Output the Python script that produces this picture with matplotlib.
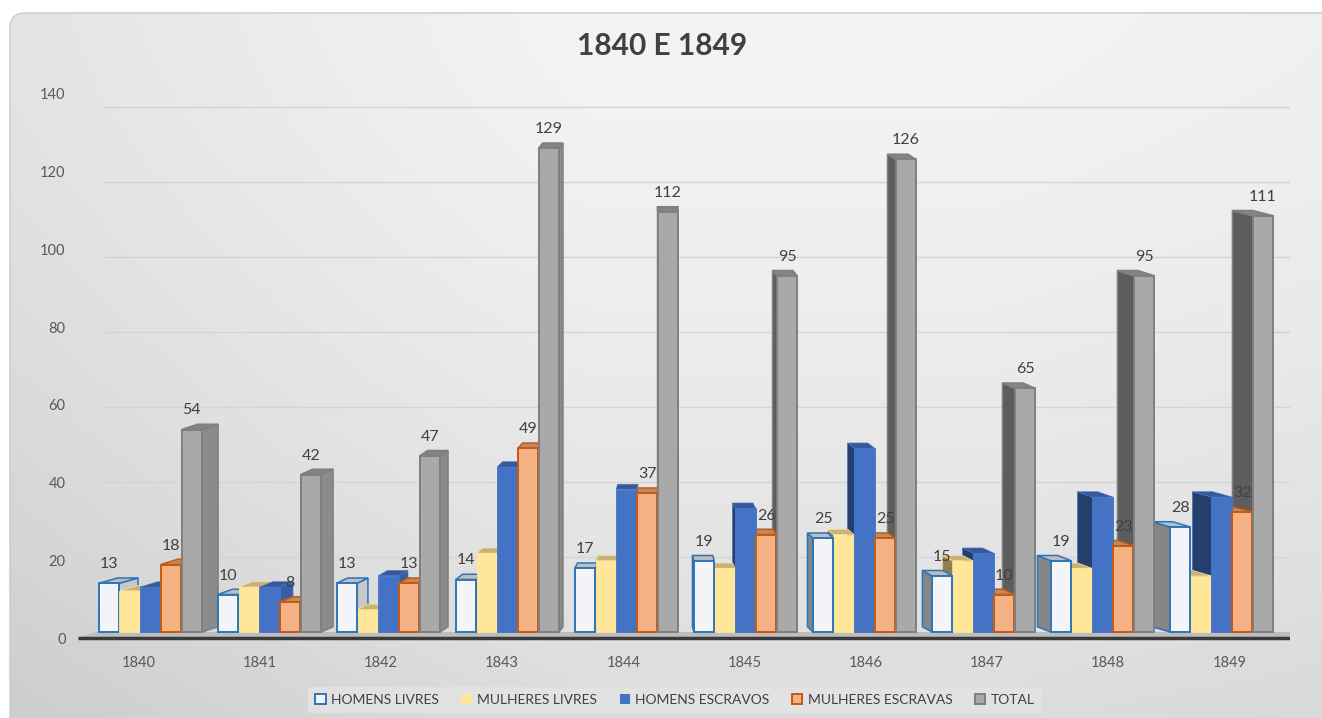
import numpy as np
import matplotlib.pyplot as plt
from matplotlib.patches import Polygon, Rectangle, Patch, FancyBboxPatch
from matplotlib.colors import to_rgb

plt.rcParams['font.family'] = ['Lato', 'DejaVu Sans']

# --- dati ---
anos = ['1840', '1841', '1842', '1843', '1844', '1845', '1846', '1847', '1848', '1849']
homens_livres = [13, 10, 13, 14, 17, 19, 25, 15, 19, 28]
mulheres_livres = [11, 12, 6, 21, 19, 17, 26, 19, 17, 15]
homens_escravos = [12, 12, 15, 44, 38, 33, 49, 21, 36, 36]
mulheres_escravas = [18, 8, 13, 49, 37, 26, 25, 10, 23, 32]
total = [54, 42, 47, 129, 112, 95, 126, 65, 95, 111]
series_nomes = ['HOMENS LIVRES', 'MULHERES LIVRES', 'HOMENS ESCRAVOS', 'MULHERES ESCRAVAS', 'TOTAL']
y_ticks = [0, 20, 40, 60, 80, 100, 120, 140]

series = [homens_livres, mulheres_livres, homens_escravos, mulheres_escravas, total]
com_rotulo = [True, False, False, True, True]

# stile: (faccia, bordo)
stili = [('#F2F4F7', '#2E75B6'),
         ('#FFE699', '#FFE699'),
         ('#4472C4', '#4472C4'),
         ('#F4B183', '#C55A11'),
         ('#A9A9A9', '#7F7F7F')]


def shade(c, f):
    r, g, b = to_rgb(c)
    return (r * f, g * f, b * f)


W, H = 1322, 718
fig = plt.figure(figsize=(W / 100, H / 100), dpi=100)
fig.patch.set_facecolor('white')

# sfondo sfumato con angoli arrotondati
bg = fig.add_axes([0, 0, 1, 1], zorder=-5)
bg.set_axis_off()
gx, gy = np.meshgrid(np.linspace(0, 1, 300), np.linspace(0, 1, 200))
grad = 0.955 - 0.16 * np.clip(0.45 - gx, 0, None) ** 1.2 - 0.09 * gy ** 1.5 - 0.05 * np.clip(gx - 0.75, 0, None)
img = bg.imshow(np.dstack([grad] * 3), extent=[0, 1, 0, 1], aspect='auto', origin='upper')
box = FancyBboxPatch((0.10, -0.5), 13.4, 7.05 + 0.5, boxstyle='round,pad=0,rounding_size=0.15',
                     transform=fig.dpi_scale_trans, facecolor='none', edgecolor='#C9C9C9', lw=1)
bg.add_patch(box)
img.set_clip_path(box)
bg.set_xlim(0, 1)
bg.set_ylim(0, 1)

# assi
pos = [78 / W, 1 - 645 / H, 1212 / W, 565 / H]
ax = fig.add_axes(pos)
ax.patch.set_alpha(0)
scale_back = 3.75
ax.set_ylim(-(645 - 632) / scale_back, (632 - 80) / scale_back)
ax.set_xlim(-0.5, 9.5)
for s in ax.spines.values():
    s.set_visible(False)
ax.set_yticks([])
ax.set_xticks(range(len(anos)))
ax.set_xticklabels(anos)
ax.tick_params(axis='x', length=0, pad=8, labelsize=10.5, labelcolor='#595959')

# asse etichette y (parete frontale)
axl = fig.add_axes(pos)
axl.patch.set_alpha(0)
axl.set_ylim(-(645 - 638) / 3.886, (638 - 80) / 3.886)
axl.set_xlim(0, 1)
for s in axl.spines.values():
    s.set_visible(False)
axl.set_xticks([])
axl.set_yticks(y_ticks)
axl.tick_params(axis='y', length=0, pad=9, labelsize=10.5, labelcolor='#595959')
axl.set_zorder(ax.get_zorder() - 1)

# griglia
ax.hlines(y_ticks[1:], -0.3, 9.55, color='#D4D4D4', lw=1, zorder=0)

# pavimento
floor_y = -1.6
ax.add_patch(Polygon([(-0.5, floor_y), (9.5, floor_y), (9.6, 0), (-0.35, 0)],
                     closed=True, facecolor='#BDBDBD', edgecolor='none', zorder=0.5))
ax.hlines(floor_y, -0.5, 9.5, color='#3A3A3A', lw=2.5, zorder=4)

# barre pseudo-3D
vp_bar = 5.41
vp_side = 4.33
passo = 0.171
w = 0.168
dy = 1.4
n = len(series)
for i in range(len(anos)):
    xg = vp_bar + (i - vp_bar) * 0.982
    for j, (vals, (fc, ec)) in enumerate(zip(series, stili)):
        v = vals[i]
        xc = xg + (j - (n - 1) / 2) * passo
        x0, x1 = xc - w / 2, xc + w / 2
        dx = 0.034 * (vp_side - xc)
        lw = 1.4 if ec != fc else 0.6
        # faccia laterale
        if dx > 0:
            side = [(x1, 0), (x1 + dx, dy), (x1 + dx, v + dy), (x1, v)]
            sc = shade(fc, 0.82)
        else:
            side = [(x0, 0), (x0 + dx, dy), (x0 + dx, v + dy), (x0, v)]
            sc = shade(fc, 0.55)
        ax.add_patch(Polygon(side, closed=True, facecolor=sc, edgecolor=ec, lw=lw * 0.8, zorder=2))
        # faccia superiore
        top = [(x0, v), (x1, v), (x1 + dx, v + dy), (x0 + dx, v + dy)]
        ax.add_patch(Polygon(top, closed=True, facecolor=shade(fc, 0.78), edgecolor=ec, lw=lw * 0.8, zorder=2.1))
        # faccia frontale
        ax.add_patch(Rectangle((x0, 0), w, v, facecolor=fc, edgecolor=ec, lw=lw, zorder=3))
        if com_rotulo[j]:
            ax.text(xc, v + dy + 1.8, str(v), ha='center', va='bottom',
                    fontsize=11.5, color='#404040', zorder=5)

# titolo
fig.text(662 / W, 1 - 46 / H, '1840 E 1849', ha='center', va='center',
         fontsize=21.5, fontweight='bold', color='#404040')

# legenda
handles = [Patch(facecolor=fc, edgecolor=ec, lw=1.4 if ec != fc else 0) for fc, ec in stili]
leg = fig.legend(handles, series_nomes, loc='center', bbox_to_anchor=(675 / W, 1 - 700 / H),
                 ncol=5, frameon=True, fontsize=10, handlelength=0.75, handleheight=0.75,
                 handletextpad=0.4, columnspacing=1.6, borderpad=0.5, fancybox=False)
leg.get_frame().set_facecolor('#E4E4E4')
leg.get_frame().set_edgecolor('none')
for t in leg.get_texts():
    t.set_color('#404040')

fig.savefig('out.png', dpi=100)
